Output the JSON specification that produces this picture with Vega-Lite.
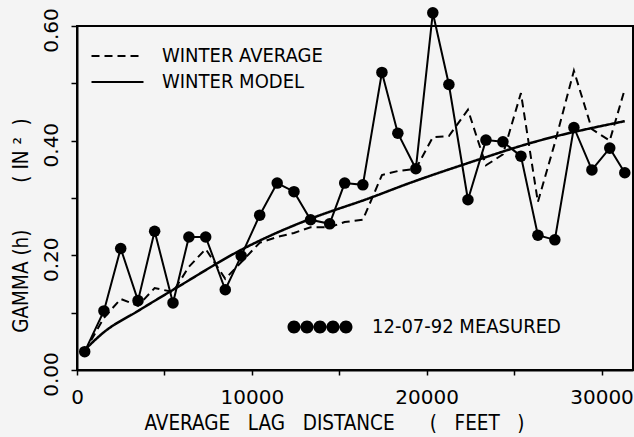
{
  "$schema": "https://vega.github.io/schema/vega-lite/v6.json",
  "width": 556,
  "height": 344,
  "autosize": {"type": "none"},
  "padding": {"left": 77, "top": 26, "right": 1, "bottom": 67},
  "background": "#f4f4f4",
  "view": {"stroke": "#000", "strokeWidth": 2},
  "config": {
    "font": "DejaVu Sans",
    "axis": {
      "grid": false,
      "domainColor": "#000",
      "domainWidth": 2,
      "tickColor": "#000",
      "tickWidth": 1.5,
      "labelColor": "#000",
      "titleColor": "#000",
      "labelFont": "DejaVu Sans",
      "titleFont": "DejaVu Sans Condensed",
      "titleFontWeight": "normal",
      "labelFlush": false,
      "labelOverlap": false
    }
  },
  "datasets": {
    "measured": [
      {"lag": 440, "gamma": 0.032, "label": "12-07-92 MEASURED"},
      {"lag": 1540, "gamma": 0.103, "label": "12-07-92 MEASURED"},
      {"lag": 2500, "gamma": 0.212, "label": "12-07-92 MEASURED"},
      {"lag": 3490, "gamma": 0.121, "label": "12-07-92 MEASURED"},
      {"lag": 4440, "gamma": 0.242, "label": "12-07-92 MEASURED"},
      {"lag": 5490, "gamma": 0.117, "label": "12-07-92 MEASURED"},
      {"lag": 6400, "gamma": 0.232, "label": "12-07-92 MEASURED"},
      {"lag": 7360, "gamma": 0.232, "label": "12-07-92 MEASURED"},
      {"lag": 8480, "gamma": 0.140, "label": "12-07-92 MEASURED"},
      {"lag": 9390, "gamma": 0.199, "label": "12-07-92 MEASURED"},
      {"lag": 10450, "gamma": 0.270, "label": "12-07-92 MEASURED"},
      {"lag": 11450, "gamma": 0.326, "label": "12-07-92 MEASURED"},
      {"lag": 12410, "gamma": 0.311, "label": "12-07-92 MEASURED"},
      {"lag": 13360, "gamma": 0.262, "label": "12-07-92 MEASURED"},
      {"lag": 14450, "gamma": 0.255, "label": "12-07-92 MEASURED"},
      {"lag": 15310, "gamma": 0.326, "label": "12-07-92 MEASURED"},
      {"lag": 16350, "gamma": 0.323, "label": "12-07-92 MEASURED"},
      {"lag": 17440, "gamma": 0.519, "label": "12-07-92 MEASURED"},
      {"lag": 18350, "gamma": 0.413, "label": "12-07-92 MEASURED"},
      {"lag": 19380, "gamma": 0.351, "label": "12-07-92 MEASURED"},
      {"lag": 20350, "gamma": 0.623, "label": "12-07-92 MEASURED"},
      {"lag": 21270, "gamma": 0.498, "label": "12-07-92 MEASURED"},
      {"lag": 22360, "gamma": 0.297, "label": "12-07-92 MEASURED"},
      {"lag": 23390, "gamma": 0.401, "label": "12-07-92 MEASURED"},
      {"lag": 24360, "gamma": 0.398, "label": "12-07-92 MEASURED"},
      {"lag": 25390, "gamma": 0.373, "label": "12-07-92 MEASURED"},
      {"lag": 26360, "gamma": 0.235, "label": "12-07-92 MEASURED"},
      {"lag": 27330, "gamma": 0.227, "label": "12-07-92 MEASURED"},
      {"lag": 28420, "gamma": 0.423, "label": "12-07-92 MEASURED"},
      {"lag": 29450, "gamma": 0.349, "label": "12-07-92 MEASURED"},
      {"lag": 30470, "gamma": 0.387, "label": "12-07-92 MEASURED"},
      {"lag": 31330, "gamma": 0.344, "label": "12-07-92 MEASURED"}
    ],
    "average": [
      {"lag": 440, "gamma": 0.032, "series": "WINTER AVERAGE"},
      {"lag": 1540, "gamma": 0.091, "series": "WINTER AVERAGE"},
      {"lag": 2500, "gamma": 0.124, "series": "WINTER AVERAGE"},
      {"lag": 3490, "gamma": 0.112, "series": "WINTER AVERAGE"},
      {"lag": 4440, "gamma": 0.143, "series": "WINTER AVERAGE"},
      {"lag": 5490, "gamma": 0.136, "series": "WINTER AVERAGE"},
      {"lag": 6400, "gamma": 0.180, "series": "WINTER AVERAGE"},
      {"lag": 7360, "gamma": 0.211, "series": "WINTER AVERAGE"},
      {"lag": 8480, "gamma": 0.159, "series": "WINTER AVERAGE"},
      {"lag": 9390, "gamma": 0.188, "series": "WINTER AVERAGE"},
      {"lag": 10450, "gamma": 0.222, "series": "WINTER AVERAGE"},
      {"lag": 11450, "gamma": 0.232, "series": "WINTER AVERAGE"},
      {"lag": 12410, "gamma": 0.239, "series": "WINTER AVERAGE"},
      {"lag": 13360, "gamma": 0.249, "series": "WINTER AVERAGE"},
      {"lag": 14450, "gamma": 0.249, "series": "WINTER AVERAGE"},
      {"lag": 15310, "gamma": 0.258, "series": "WINTER AVERAGE"},
      {"lag": 16350, "gamma": 0.262, "series": "WINTER AVERAGE"},
      {"lag": 17440, "gamma": 0.340, "series": "WINTER AVERAGE"},
      {"lag": 18350, "gamma": 0.347, "series": "WINTER AVERAGE"},
      {"lag": 19380, "gamma": 0.351, "series": "WINTER AVERAGE"},
      {"lag": 20350, "gamma": 0.406, "series": "WINTER AVERAGE"},
      {"lag": 21270, "gamma": 0.408, "series": "WINTER AVERAGE"},
      {"lag": 22360, "gamma": 0.454, "series": "WINTER AVERAGE"},
      {"lag": 23390, "gamma": 0.357, "series": "WINTER AVERAGE"},
      {"lag": 24360, "gamma": 0.376, "series": "WINTER AVERAGE"},
      {"lag": 25390, "gamma": 0.483, "series": "WINTER AVERAGE"},
      {"lag": 26360, "gamma": 0.293, "series": "WINTER AVERAGE"},
      {"lag": 27330, "gamma": 0.396, "series": "WINTER AVERAGE"},
      {"lag": 28420, "gamma": 0.522, "series": "WINTER AVERAGE"},
      {"lag": 29450, "gamma": 0.420, "series": "WINTER AVERAGE"},
      {"lag": 30470, "gamma": 0.400, "series": "WINTER AVERAGE"},
      {"lag": 31330, "gamma": 0.490, "series": "WINTER AVERAGE"}
    ],
    "model": [
      {"lag": 440, "gamma": 0.035, "series": "WINTER MODEL"},
      {"lag": 1540, "gamma": 0.066, "series": "WINTER MODEL"},
      {"lag": 3490, "gamma": 0.103, "series": "WINTER MODEL"},
      {"lag": 5775, "gamma": 0.145, "series": "WINTER MODEL"},
      {"lag": 9605, "gamma": 0.213, "series": "WINTER MODEL"},
      {"lag": 11035, "gamma": 0.234, "series": "WINTER MODEL"},
      {"lag": 13379, "gamma": 0.264, "series": "WINTER MODEL"},
      {"lag": 16752, "gamma": 0.300, "series": "WINTER MODEL"},
      {"lag": 18925, "gamma": 0.325, "series": "WINTER MODEL"},
      {"lag": 22470, "gamma": 0.362, "series": "WINTER MODEL"},
      {"lag": 26072, "gamma": 0.397, "series": "WINTER MODEL"},
      {"lag": 31330, "gamma": 0.434, "series": "WINTER MODEL"}
    ]
  },
  "layer": [
    {
      "data": {"name": "measured"},
      "mark": {"type": "line", "color": "#000", "strokeWidth": 2},
      "encoding": {
        "x": {
          "field": "lag", "type": "quantitative",
          "scale": {"domain": [0, 31800], "nice": false, "zero": false},
          "axis": {
            "orient": "bottom",
            "values": [0, 5000, 10000, 15000, 20000, 25000, 30000],
            "format": "d",
            "labelExpr": "datum.value % 10000 === 0 ? datum.label : ''",
            "tickSize": 5,
            "labelFontSize": 20,
            "labelPadding": 12,
            "title": "AVERAGE\u00a0\u00a0\u00a0LAG\u00a0\u00a0\u00a0DISTANCE\u00a0\u00a0\u00a0\u00a0\u00a0\u00a0(\u00a0\u00a0\u00a0FEET\u00a0\u00a0\u00a0)",
            "titleFontSize": 20.5,
            "titleX": 257,
            "titleY": 43,
            "titleAlign": "center",
            "titleBaseline": "top"
          }
        },
        "y": {
          "field": "gamma", "type": "quantitative",
          "scale": {"domain": [0, 0.6], "nice": false},
          "axis": {
            "orient": "left",
            "values": [0, 0.1, 0.2, 0.3, 0.4, 0.5, 0.6],
            "format": ".2f",
            "labelExpr": "round(datum.value * 10) % 2 === 0 ? datum.label : ''",
            "labelAngle": 270,
            "labelAlign": "center",
            "labelBaseline": "bottom",
            "labelOffset": 4,
            "tickSize": 6,
            "labelPadding": 10,
            "labelFontSize": 20,
            "title": "GAMMA\u00a0(h)\u00a0\u00a0\u00a0\u00a0\u00a0\u00a0\u00a0\u00a0(\u00a0IN\u00a0²\u00a0\u00a0)",
            "titleFontSize": 20.5,
            "titleAngle": 270,
            "titleX": -46,
            "titleY": 199,
            "titleAlign": "center",
            "titleBaseline": "bottom"
          }
        }
      }
    },
    {
      "data": {"name": "measured"},
      "mark": {"type": "point", "filled": true, "color": "#000", "size": 133, "opacity": 1},
      "encoding": {
        "x": {"field": "lag", "type": "quantitative"},
        "y": {"field": "gamma", "type": "quantitative"},
        "fill": {
          "field": "label", "type": "nominal",
          "scale": {"range": ["#000"]},
          "legend": {
            "orient": "none",
            "legendX": 233,
            "legendY": 291,
            "title": null,
            "symbolType": "M -5 0 A 1 1 0 1 0 -3 0 A 1 1 0 1 0 -5 0 Z M -3 0 A 1 1 0 1 0 -1 0 A 1 1 0 1 0 -3 0 Z M -1 0 A 1 1 0 1 0 1 0 A 1 1 0 1 0 -1 0 Z M 1 0 A 1 1 0 1 0 3 0 A 1 1 0 1 0 1 0 Z M 3 0 A 1 1 0 1 0 5 0 A 1 1 0 1 0 3 0 Z",
            "symbolSize": 169,
            "symbolStrokeWidth": 0,
            "symbolOpacity": 1,
            "labelFont": "DejaVu Sans Condensed",
            "labelFontSize": 20,
            "labelColor": "#000",
            "labelOffset": 42,
            "labelLimit": 400
          }
        }
      }
    },
    {
      "data": {"name": "average"},
      "mark": {"type": "line", "color": "#000", "strokeWidth": 2},
      "encoding": {
        "x": {"field": "lag", "type": "quantitative"},
        "y": {"field": "gamma", "type": "quantitative"},
        "strokeDash": {
          "field": "series", "type": "nominal",
          "scale": {"domain": ["WINTER AVERAGE", "WINTER MODEL"], "range": [[8, 5], [1, 0]]},
          "legend": {
            "orient": "none",
            "legendX": 30.5,
            "legendY": 20,
            "title": null,
            "symbolType": "M -4 0 H 4",
            "symbolSize": 169,
            "symbolStrokeWidth": 2,
            "symbolStrokeColor": "#000",
            "labelFont": "DejaVu Sans Condensed",
            "labelFontSize": 20,
            "labelColor": "#000",
            "labelOffset": 34.5,
            "labelLimit": 400,
            "rowPadding": 6
          }
        }
      }
    },
    {
      "data": {"name": "model"},
      "mark": {"type": "line", "color": "#000", "strokeWidth": 2.5, "interpolate": "monotone"},
      "encoding": {
        "x": {"field": "lag", "type": "quantitative"},
        "y": {"field": "gamma", "type": "quantitative"},
        "strokeDash": {"field": "series", "type": "nominal"}
      }
    },
    {
      "data": {"values": [{"g": 0.6}]},
      "mark": {"type": "rule", "color": "#000", "strokeWidth": 2},
      "encoding": {
        "y": {"field": "g", "type": "quantitative"}
      }
    },
    {
      "data": {"values": [{"l": 31800}]},
      "mark": {"type": "rule", "color": "#000", "strokeWidth": 2},
      "encoding": {
        "x": {"field": "l", "type": "quantitative"}
      }
    }
  ]
}
